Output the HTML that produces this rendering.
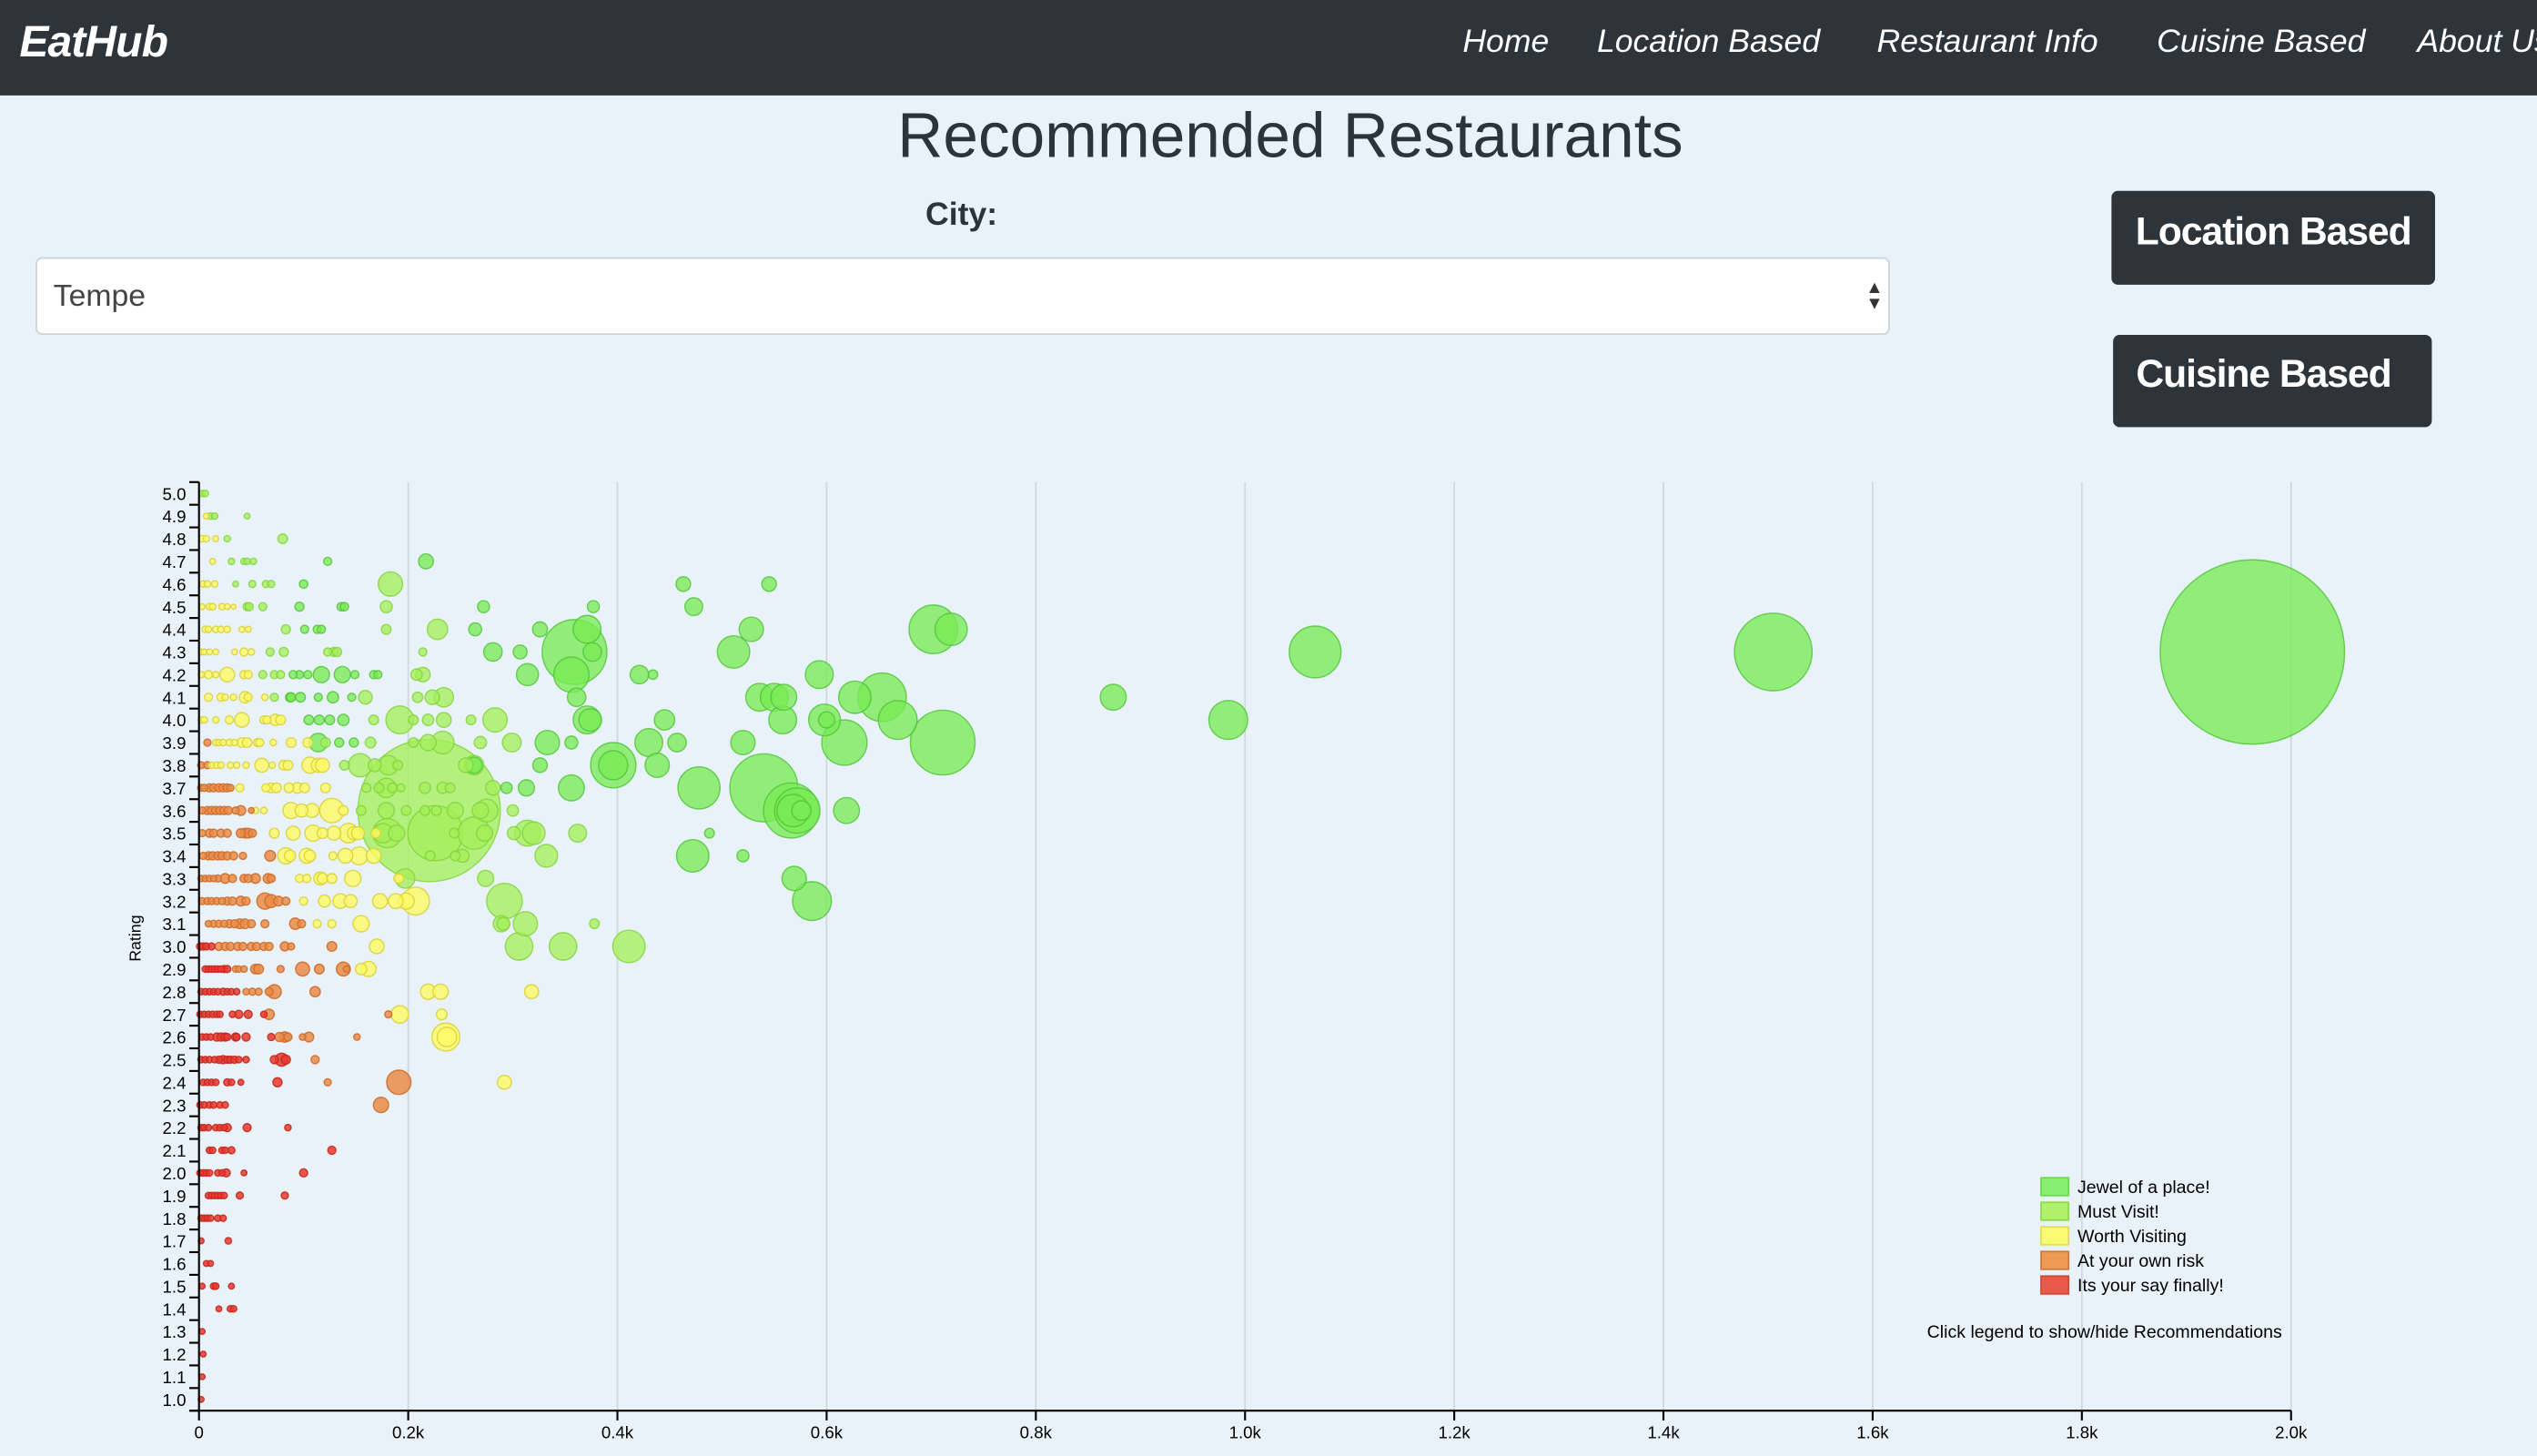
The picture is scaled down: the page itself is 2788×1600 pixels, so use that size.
<!DOCTYPE html>
<html><head><meta charset="utf-8">
<style>
html,body{margin:0;padding:0;width:2788px;height:1600px;overflow:hidden;background:#e8f2f8;}
#wrap{position:absolute;left:0;top:0;width:1568px;height:900px;transform:scale(1.77806,1.77778);transform-origin:0 0;font-family:"Liberation Sans",Arial,sans-serif;color:#2c343b;}
.nav{position:absolute;left:0;top:0;width:1568px;height:59px;background:#2d343a;}
.brand{position:absolute;left:12px;top:11px;font-size:27px;font-weight:bold;font-style:italic;color:#fff;letter-spacing:-0.5px;}
.navlink{position:absolute;top:15px;font-size:20px;font-style:italic;color:#fff;white-space:nowrap;}
h1{position:absolute;left:0;width:1595px;top:63px;margin:0;text-align:center;font-size:39px;font-weight:normal;color:#2c343b;}
.city{position:absolute;left:572px;top:122px;font-size:20px;font-weight:bold;}
.sel{position:absolute;left:22px;top:159px;width:1146px;height:48px;background:#fff;border:1px solid #cdd3da;border-radius:4px;box-sizing:border-box;}
.sel span{position:absolute;left:10px;top:13px;font-size:19px;color:#444;}
.sel i{position:absolute;right:3px;top:13px;font-style:normal;font-size:11px;line-height:10px;color:#333;}
.btn{position:absolute;background:#2d343a;border-radius:4px;color:#fff;font-size:24px;font-weight:bold;text-align:center;letter-spacing:-0.6px;}
svg{position:absolute;left:0;top:0;}
</style></head>
<body>
<div id="wrap">
 <div class="nav">
  <div class="brand">EatHub</div>
  <div class="navlink" style="left:904px">Home</div>
  <div class="navlink" style="left:987px">Location Based</div>
  <div class="navlink" style="left:1160px">Restaurant Info</div>
  <div class="navlink" style="left:1333px">Cuisine Based</div>
  <div class="navlink" style="left:1494px">About Us</div>
 </div>
 <h1>Recommended Restaurants</h1>
 <div class="city">City:</div>
 <div class="sel"><span>Tempe</span><i>▲<br>▼</i></div>
 <div class="btn" style="left:1305px;top:118px;width:200px;height:58px;line-height:52px">Location Based</div>
 <div class="btn" style="left:1306px;top:207px;width:186px;padding-right:11px;height:57px;line-height:50px">Cuisine Based</div>
 <svg id="chart" width="1568" height="900" viewBox="0 0 1568 900"></svg>
</div>
<script>
const xTicks=[0,200,400,600,800,1000,1200,1400,1600,1800,2000];
const xTickLabels=["0","0.2k","0.4k","0.6k","0.8k","1.0k","1.2k","1.4k","1.6k","1.8k","2.0k"];
const yTicks=[1.0,1.1,1.2,1.3,1.4,1.5,1.6,1.7,1.8,1.9,2.0,2.1,2.2,2.3,2.4,2.5,2.6,2.7,2.8,2.9,3.0,3.1,3.2,3.3,3.4,3.5,3.6,3.7,3.8,3.9,4.0,4.1,4.2,4.3,4.4,4.5,4.6,4.7,4.8,4.9,5.0];
const seriesNames=["Jewel of a place!","Must Visit!","Worth Visiting","At your own risk","Its your say finally!"];
// [reviews, rating, bubble size]
const jewel=[[217,4.7,4.6],[123,4.7,2.5],[463,4.6,4.5],[545,4.6,4.5],[100,4.6,2.6],[272,4.5,3.7],[377,4.5,3.7],[473,4.5,5.5],[96,4.5,2.8],[136,4.5,2.6],[139,4.5,2.6],
[371,4.4,8.6],[264,4.4,4],[326,4.4,4.6],[528,4.4,7.5],[702,4.4,15],[719,4.4,10],[101,4.4,2.5],[113,4.4,2.5],[117,4.4,2.5],
[359,4.3,20],[376,4.3,5.7],[281,4.3,5.7],[307,4.3,4.3],[511,4.3,10],[1067,4.3,16],[1505,4.3,24],[1963,4.3,57],
[314,4.2,6.8],[356,4.2,10.9],[421,4.2,5.7],[434,4.2,2.9],[593,4.2,8.6],[117,4.2,5],[137,4.2,5],[149,4.2,2.5],[167,4.2,2.5],[171,4.2,2.5],[96,4.2,2.5],[104,4.2,2.5],[90,4.2,2.5],
[361,4.1,5.7],[536,4.1,8.6],[550,4.1,8.6],[559,4.1,8],[627,4.1,10],[653,4.1,15],[874,4.1,8],[87,4.1,2.8],[88,4.1,2.8],[97,4.1,3],[114,4.1,2.5],[128,4.1,3.5],[146,4.1,2.5],
[371,4.0,8.6],[374,4.0,7],[445,4.0,6.3],[558,4.0,8.6],[598,4.0,9.8],[600,4.0,5],[668,4.0,12],[984,4.0,12],[105,4.0,3],[115,4.0,3],[125,4.0,3],[138,4.0,3.5],
[333,3.9,7.5],[356,3.9,4],[430,3.9,8.6],[457,3.9,5.7],[520,3.9,7.5],[617,3.9,14],[711,3.9,20],[114,3.9,5.7],[134,3.9,2.8],[148,3.9,2.8],
[396,3.8,14],[396,3.8,9],[438,3.8,7.5],[326,3.8,4.5],[263,3.8,5],
[540,3.7,21],[478,3.7,13],[356,3.7,8],[294,3.7,3.5],[313,3.7,5],
[566,3.6,17],[572,3.6,14],[568,3.6,10],[619,3.6,8],[576,3.6,6],
[488,3.5,3],[472,3.4,10],[520,3.4,3.7],[569,3.3,7.5],[586,3.2,12]];
const mustVisit=[[3,5.0,2],[6,5.0,2],[11,4.9,2],[15,4.9,2],[46,4.9,1.8],[27,4.8,2],[80,4.8,3],[31,4.7,2],[43,4.7,2],[46,4.7,2],[52,4.7,2],
[35,4.6,1.8],[51,4.6,2.2],[64,4.6,2.2],[69,4.6,2.2],[183,4.6,7.5],[46,4.5,2.5],[48,4.5,2.5],[61,4.5,2.5],[179,4.5,3.7],
[83,4.4,2.8],[179,4.4,3],[228,4.4,6.3],[68,4.3,2.5],[81,4.3,2.8],[123,4.3,2.5],[129,4.3,2.8],[132,4.3,2.8],[214,4.3,2.5],
[61,4.2,2.5],[72,4.2,2.5],[78,4.2,2.5],[208,4.2,3.5],[214,4.2,4.5],[72,4.1,2.5],[159,4.1,4.2],[209,4.1,3.2],[223,4.1,4.5],[234,4.1,6],
[167,4.0,3],[192,4.0,8.6],[205,4.0,3],[219,4.0,3.5],[234,4.0,4.6],[260,4.0,3],[283,4.0,7.5],
[121,3.9,3],[164,3.9,3.3],[205,3.9,3],[219,3.9,5],[233,3.9,7],[269,3.9,3.8],[299,3.9,5.8],
[139,3.8,3],[154,3.8,7.2],[168,3.8,4],[181,3.8,6],[190,3.8,3],[255,3.8,4.5],[263,3.8,6],
[160,3.7,2.8],[172,3.7,3],[179,3.7,6],[185,3.7,3],[193,3.7,2.5],[216,3.7,3.5],[233,3.7,3.5],[240,3.7,3],[281,3.7,4.5],
[220,3.6,44],[155,3.6,3],[179,3.6,5],[198,3.6,3],[216,3.6,3],[227,3.6,3],[245,3.6,5],[269,3.6,5],[275,3.6,7],[300,3.6,3.5],
[226,3.5,17],[176,3.5,6],[180,3.5,9],[189,3.5,5],[244,3.5,3],[263,3.5,10],[273,3.5,5],[301,3.5,4],[314,3.5,8],[320,3.5,7],[362,3.5,5.5],
[221,3.4,3],[245,3.4,3],[252,3.4,4],[332,3.4,7],[197,3.3,6],[274,3.3,5],[292,3.2,11],
[289,3.1,5],[291,3.1,4],[312,3.1,7.5],[378,3.1,3],[306,3.0,8.5],[348,3.0,8.5],[411,3.0,10]];
const worthVisiting=[[7,4.9,1.8],[3,4.8,2],[7,4.8,2],[16,4.8,1.8],[13,4.7,1.8],[4,4.6,2],[8,4.6,2],[15,4.6,2],
[3,4.5,1.8],[10,4.5,2],[13,4.5,2],[22,4.5,2],[27,4.5,1.8],[33,4.5,1.5],
[6,4.4,2],[9,4.4,2],[16,4.4,2],[21,4.4,2],[27,4.4,2],[41,4.4,1.8],[47,4.4,1.8],
[2,4.3,1.8],[5,4.3,1.8],[10,4.3,1.8],[16,4.3,1.8],[34,4.3,1.8],[43,4.3,2.5],[50,4.3,2],
[2,4.2,2],[9,4.2,2.5],[16,4.2,2],[27,4.2,4.5],[43,4.2,2.5],[47,4.2,2.5],
[9,4.1,2.5],[21,4.1,2.5],[25,4.1,2],[33,4.1,2],[44,4.1,3.5],[47,4.1,2.5],[63,4.1,2],
[2,4.0,2],[5,4.0,2],[16,4.0,2],[29,4.0,2.5],[41,4.0,4.5],[62,4.0,2.5],[65,4.0,2.5],[73,4.0,3.5],[78,4.0,3],
[16,3.9,2],[19,3.9,2],[23,3.9,2],[29,3.9,2],[34,3.9,2],[41,3.9,3],[46,3.9,3],[56,3.9,2.5],[58,3.9,2.5],[71,3.9,2],[88,3.9,3],[104,3.9,3],
[12,3.8,2],[17,3.8,2],[21,3.8,2],[30,3.8,2],[36,3.8,2],[45,3.8,2],[60,3.8,4.3],[70,3.8,2],[81,3.8,3],[85,3.8,3],[106,3.8,5],[114,3.8,4.3],[118,3.8,4.3],
[39,3.7,2.5],[64,3.7,2.5],[69,3.7,3],[74,3.7,3],[86,3.7,3],[94,3.7,3.3],[101,3.7,3],[121,3.7,3],
[54,3.6,2],[62,3.6,2],[88,3.6,5],[98,3.6,4],[108,3.6,4.3],[127,3.6,7.5],[138,3.6,3],
[72,3.5,3],[90,3.5,4.3],[109,3.5,5],[118,3.5,3.3],[129,3.5,4.3],[143,3.5,6],[148,3.5,4],[152,3.5,4],[169,3.5,3],
[83,3.4,5],[87,3.4,3.5],[103,3.4,4.6],[106,3.4,3.5],[128,3.4,2.5],[140,3.4,4.6],[153,3.4,5.5],[167,3.4,4.6],
[96,3.3,2.5],[103,3.3,2.5],[116,3.3,4],[118,3.3,3.3],[127,3.3,3],[147,3.3,5],[191,3.3,3],
[100,3.2,2.5],[120,3.2,3.7],[135,3.2,4.5],[145,3.2,4],[173,3.2,4.6],[188,3.2,4.6],[198,3.2,5],[207,3.2,8.6],
[113,3.1,2.5],[127,3.1,2.5],[155,3.1,5],[170,3.0,4.5],[155,2.9,3.5],[162,2.9,4.7],
[219,2.8,4.7],[231,2.8,4.7],[318,2.8,4.3],[192,2.7,5.4],[232,2.7,3.3],[236,2.6,8.6],[237,2.6,6],[292,2.4,4.3]];
const ownRisk=[[8,3.9,2.2],[2,3.8,2.2],[8,3.8,2.2],
[2,3.7,2.2],[5,3.7,2.2],[10,3.7,2.5],[14,3.7,2.5],[19,3.7,2.5],[23,3.7,2.5],[27,3.7,2.5],[30,3.7,2.2],
[3,3.6,2.2],[8,3.6,2.5],[12,3.6,2.5],[16,3.6,2.5],[20,3.6,2.5],[24,3.6,2.5],[28,3.6,2.5],[35,3.6,2.2],[40,3.6,3],[50,3.6,1.8],
[3,3.5,2.2],[10,3.5,2.5],[14,3.5,2.5],[21,3.5,2.5],[27,3.5,2.5],[40,3.5,2.8],[44,3.5,3],[47,3.5,3],[51,3.5,2.5],
[4,3.4,2.2],[9,3.4,2.5],[13,3.4,2.5],[18,3.4,2.5],[22,3.4,2.5],[27,3.4,2.5],[33,3.4,2.5],[42,3.4,2.2],[68,3.4,3.3],
[2,3.3,2],[6,3.3,2],[10,3.3,2],[14,3.3,2],[18,3.3,2.2],[25,3.3,3],[32,3.3,2.5],[43,3.3,2.5],[47,3.3,2.5],[54,3.3,3],[66,3.3,3],[69,3.3,2.5],
[3,3.2,2.2],[8,3.2,2.2],[12,3.2,2.2],[17,3.2,2.2],[22,3.2,2.2],[27,3.2,2.5],[32,3.2,2.5],[40,3.2,3],[45,3.2,2.5],[63,3.2,5],[69,3.2,4],[76,3.2,3],[83,3.2,2.5],
[9,3.1,2],[14,3.1,2.2],[19,3.1,2.2],[24,3.1,2.2],[29,3.1,2.5],[34,3.1,2.5],[39,3.1,3],[44,3.1,3],[50,3.1,2.5],[63,3.1,2.5],[92,3.1,3.5],[98,3.1,2.5],
[19,3.0,2.5],[25,3.0,2.5],[30,3.0,2.5],[37,3.0,2.5],[42,3.0,2.5],[50,3.0,2.5],[55,3.0,2.5],[62,3.0,2.5],[67,3.0,2.5],[82,3.0,2.8],[88,3.0,2.2],[127,3.0,3],
[35,2.9,2],[38,2.9,2],[43,2.9,2],[54,2.9,3],[57,2.9,3],[78,2.9,2.2],[99,2.9,4.3],[115,2.9,3],[138,2.9,4.3],[141,2.9,2],
[45,2.8,2],[51,2.8,2.2],[57,2.8,2.2],[67,2.8,2.5],[72,2.8,4.3],[111,2.8,3.2],[67,2.7,3.2],[181,2.7,2.2],
[77,2.6,2.8],[82,2.6,3.2],[85,2.6,2.5],[99,2.6,2],[105,2.6,3],[151,2.6,2],[111,2.5,2.5],[123,2.4,2.2],[191,2.4,7.5],[174,2.3,4.7]];
const yourSay=[[1,3.0,2.2],[4,3.0,2.2],[7,3.0,2.2],[12,3.0,2.2],
[6,2.9,2],[9,2.9,2],[12,2.9,2],[15,2.9,2],[18,2.9,2],[21,2.9,2],[24,2.9,2.2],[27,2.9,2.2],
[2,2.8,2],[6,2.8,2],[10,2.8,2],[14,2.8,2],[18,2.8,2],[23,2.8,2.2],[27,2.8,2],[31,2.8,2],[36,2.8,2],
[1,2.7,2],[5,2.7,2],[9,2.7,2],[13,2.7,2],[17,2.7,2],[20,2.7,2],[32,2.7,2],[38,2.7,2.5],[47,2.7,2.5],[62,2.7,2],
[3,2.6,2],[7,2.6,2],[11,2.6,2],[17,2.6,2.5],[21,2.6,2.5],[25,2.6,2.5],[27,2.6,2.2],[35,2.6,2.5],[36,2.6,2.2],[45,2.6,2.5],[69,2.6,2.2],
[2,2.5,2],[6,2.5,2],[10,2.5,2],[15,2.5,2],[19,2.5,2.2],[23,2.5,2.5],[27,2.5,2.2],[30,2.5,2.2],[34,2.5,2.2],[38,2.5,2],[45,2.5,2],[72,2.5,2.5],[79,2.5,4],[83,2.5,2.8],
[4,2.4,2],[8,2.4,2],[12,2.4,2],[16,2.4,2],[27,2.4,2.2],[31,2.4,2],[40,2.4,1.8],[75,2.4,2.8],
[1,2.3,2],[5,2.3,2],[10,2.3,2],[14,2.3,2],[20,2.3,2],[25,2.3,2],
[2,2.2,2],[5,2.2,2],[9,2.2,2],[16,2.2,2],[20,2.2,2],[24,2.2,2],[27,2.2,2.5],[46,2.2,2.5],[85,2.2,2],
[10,2.1,2],[13,2.1,2],[22,2.1,2],[25,2.1,2],[31,2.1,2.2],[127,2.1,2.5],
[1,2.0,2],[4,2.0,2],[7,2.0,2],[10,2.0,2],[18,2.0,2],[22,2.0,2],[26,2.0,2.5],[43,2.0,1.8],[100,2.0,2.5],
[9,1.9,2],[12,1.9,2],[15,1.9,2],[18,1.9,2],[21,1.9,2],[24,1.9,2],[39,1.9,2.2],[82,1.9,2.2],
[2,1.8,2],[5,1.8,2],[8,1.8,2],[11,1.8,2],[18,1.8,2],[23,1.8,2],[2,1.7,1.8],[28,1.7,2],[7,1.6,1.8],[11,1.6,1.8],
[3,1.5,1.8],[14,1.5,2],[16,1.5,2],[31,1.5,1.8],[19,1.4,1.8],[30,1.4,2],[33,1.4,2],[3,1.3,1.8],[4,1.2,1.8],[3,1.1,1.8],[2,1.0,1.8]];

const NS="http://www.w3.org/2000/svg";
const svg=document.getElementById('chart');
const X0=123,X1=1416,Y0=865,Y1=305,AXY=872,TOP=298;
function xScale(v){return X0+(v-0)/(2000-0)*(X1-X0);}
function yScale(v){return Y0-(v-1.0)/(5.0-1.0)*(Y0-Y1);}
function rScale(s){return s;}
function mk(tag,attrs){const e=document.createElementNS(NS,tag);for(const k in attrs)e.setAttribute(k,attrs[k]);return e;}
const fills=["rgba(120,235,85,0.78)","rgba(165,240,90,0.78)","rgba(252,250,100,0.8)","rgba(234,140,70,0.85)","rgba(228,60,48,0.85)"];
const strokes=["rgba(80,195,55,0.8)","rgba(130,210,60,0.8)","rgba(220,210,60,0.9)","rgba(205,110,45,0.9)","rgba(200,40,30,0.9)"];
const legFill=["#88f070","#b0f06a","#fafa70","#ee9a55","#ea5a4a"];
const legStroke=["#6cd850","#90d850","#dede58","#d07a40","#d04838"];

const grid=mk('g',{});svg.appendChild(grid);
xTicks.forEach((t,i)=>{if(i===0)return;const l=mk('line',{x1:xScale(t),x2:xScale(t),y1:TOP,y2:AXY,stroke:'#d3d7da','stroke-width':1});


grid.appendChild(l);});

const all=[jewel,mustVisit,worthVisiting,ownRisk,yourSay];
const pts=[];all.forEach((s,ci)=>s.forEach(p=>pts.push([p,ci])));
pts.sort((a,b)=>b[0][2]-a[0][2]);
pts.forEach(([p,ci])=>{const c=mk('circle',{cx:xScale(p[0]),cy:yScale(p[1]),r:rScale(p[2]),fill:fills[ci],stroke:strokes[ci],'stroke-width':0.8});


svg.appendChild(c);});

const ya=mk('g',{});svg.appendChild(ya);
ya.appendChild(mk('line',{x1:X0,x2:X0,y1:TOP,y2:AXY,stroke:'#000','stroke-width':1.2}));
ya.appendChild(mk('line',{x1:X0-6,x2:X0,y1:TOP,y2:TOP,stroke:'#000','stroke-width':1.2}));
yTicks.forEach(t=>{const y=yScale(t);
ya.appendChild(mk('line',{x1:X0-6,x2:X0,y1:y+7,y2:y+7,stroke:'#000','stroke-width':1.2}));
const tx=mk('text',{x:X0-8,y:y+4,'text-anchor':'end','font-size':'10.5','font-family':'Liberation Sans, Arial, sans-serif',fill:'#000'});
tx.textContent=t.toFixed(1);


ya.appendChild(tx);});
const yt=mk('text',{x:0,y:0,transform:'translate(87,580) rotate(-90)','text-anchor':'middle','font-size':'10','font-family':'Liberation Sans, Arial, sans-serif',fill:'#000'});
yt.textContent='Rating';


svg.appendChild(yt);

const xa=mk('g',{});svg.appendChild(xa);
xa.appendChild(mk('line',{x1:X0-6,x2:X1,y1:AXY,y2:AXY,stroke:'#000','stroke-width':1.2}));
xTicks.forEach((t,i)=>{const x=xScale(t);
xa.appendChild(mk('line',{x1:x,x2:x,y1:AXY,y2:AXY+6,stroke:'#000','stroke-width':1.2}));
const tx=mk('text',{x:x,y:AXY+17,'text-anchor':'middle','font-size':'10.5','font-family':'Liberation Sans, Arial, sans-serif',fill:'#000'});
tx.textContent=xTickLabels[i];


xa.appendChild(tx);});

const lg=mk('g',{});svg.appendChild(lg);
seriesNames.forEach((n,i)=>{const y=728+15.2*i;
const g=mk('g',{});


g.appendChild(mk('rect',{x:1261.5,y:y,width:17,height:11,fill:legFill[i],stroke:legStroke[i],'stroke-width':1}));
const tx=mk('text',{x:1284,y:y+9.5,'font-size':'11','font-family':'Liberation Sans, Arial, sans-serif',fill:'#000'});
tx.textContent=n;g.appendChild(tx);lg.appendChild(g);});
const note=mk('text',{x:1191,y:827,'font-size':'11','font-family':'Liberation Sans, Arial, sans-serif',fill:'#000'});
note.textContent='Click legend to show/hide Recommendations';


svg.appendChild(note);
</script>
</body></html>
